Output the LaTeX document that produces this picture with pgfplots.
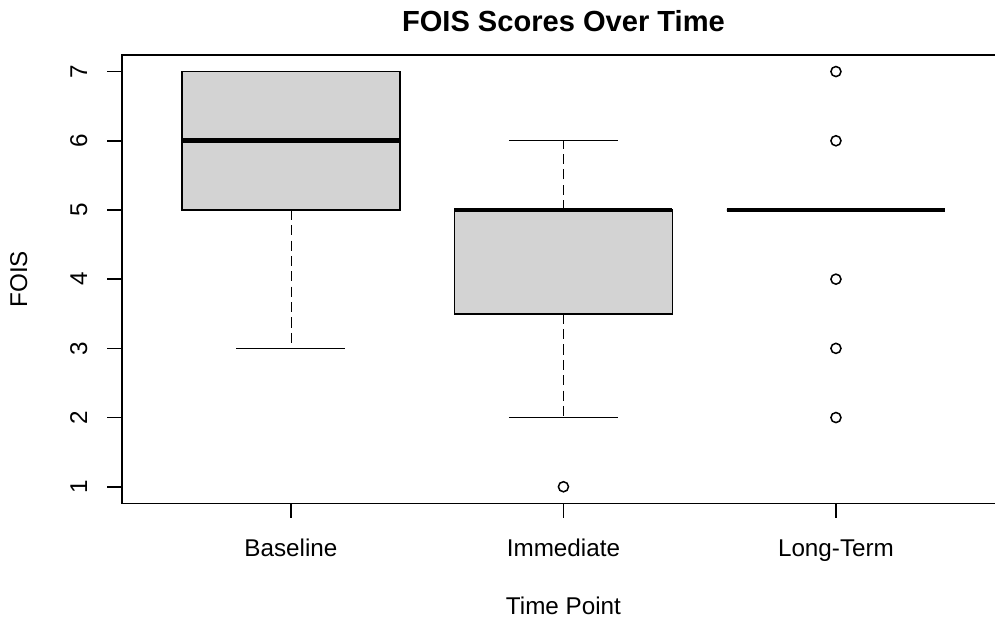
\documentclass[border=0pt]{standalone}
\usepackage{pgfplots}
\pgfplotsset{compat=1.18}
\usepgfplotslibrary{statistics}
\usepackage{fontspec}
\setmainfont{Liberation Sans}
\definecolor{boxfill}{HTML}{D3D3D3}

\pgfplotsset{
  rbox/.style={
    boxplot/draw direction=y,
    boxplot/box extend=0.8,
    boxplot/whisker extend=0.4,
    boxplot/every box/.style={draw=black, fill=boxfill, line width=0.75pt},
    boxplot/every median/.style={draw=black, line width=2.3pt},
    boxplot/every whisker/.style={draw=black, line width=0.75pt},
    boxplot/draw/lower whisker/.code={%
      \draw[dash pattern=on 5pt off 2.6pt]
        (boxplot box cs:\pgfplotsboxplotvalue{lower quartile},0.5) --
        (boxplot box cs:\pgfplotsboxplotvalue{lower whisker},0.5);
      \draw (boxplot whisker cs:\pgfplotsboxplotvalue{lower whisker},0) --
        (boxplot whisker cs:\pgfplotsboxplotvalue{lower whisker},1);
    },
    boxplot/draw/upper whisker/.code={%
      \draw[dash pattern=on 5pt off 2.6pt]
        (boxplot box cs:\pgfplotsboxplotvalue{upper quartile},0.5) --
        (boxplot box cs:\pgfplotsboxplotvalue{upper whisker},0.5);
      \draw (boxplot whisker cs:\pgfplotsboxplotvalue{upper whisker},0) --
        (boxplot whisker cs:\pgfplotsboxplotvalue{upper whisker},1);
    },
  },
}

\begin{document}
\begin{tikzpicture}[x=1pt,y=1pt]
\clip (-60.4,-57.2) rectangle (432.2,249.2);
\begin{axis}[
  at={(0,0)}, anchor=south west,
  scale only axis, width=437.1pt, height=222pt,
  xmin=0.38, xmax=3.62, ymin=0.76, ymax=7.24,
  xtick={1,2,3}, xticklabels={Baseline,Immediate,Long-Term},
  ytick={1,2,3,4,5,6,7},
  /pgf/number format/assume math mode=true,
  tick align=outside, major tick length=7.2pt,
  tick style={black, line width=0.75pt},
  axis line style={black, line width=0.75pt},
  xtick pos=bottom, ytick pos=left,
  ticklabel style={font=\fontsize{12}{14}\selectfont},
  xticklabel style={anchor=base, yshift=-19pt},
  yticklabel style={xshift=-10.1pt, rotate=90, anchor=base},
  title={FOIS Scores Over Time},
  title style={at={(axis description cs:0.5,1.0257)}, anchor=base,
    font=\fontsize{14.4}{17}\selectfont\bfseries},
  xlabel={Time Point},
  xlabel style={at={(axis description cs:0.5,-0.2486)}, anchor=base,
    font=\fontsize{12}{14}\selectfont},
  ylabel={FOIS},
  ylabel style={at={(axis description cs:-0.1075,0.5)}, anchor=base,
    font=\fontsize{12}{14}\selectfont},
  clip=false,
]
% Baseline
\addplot[rbox, boxplot prepared={draw position=1,
  lower whisker=3, lower quartile=5, median=6,
  upper quartile=7, upper whisker=7}] coordinates {};
% Immediate
\addplot[rbox, boxplot prepared={draw position=2,
  lower whisker=2, lower quartile=3.5, median=5,
  upper quartile=5, upper whisker=6}] coordinates {};
% Long-Term
\addplot[rbox, boxplot prepared={draw position=3,
  lower whisker=5, lower quartile=5, median=5,
  upper quartile=5, upper whisker=5}] coordinates {};
% Outliers
\addplot[only marks, mark=o, mark size=2.5pt,
  mark options={draw=black, line width=0.75pt}] coordinates {
  (2,1) (3,2) (3,3) (3,4) (3,6) (3,7)
};
\end{axis}
\end{tikzpicture}
\end{document}
